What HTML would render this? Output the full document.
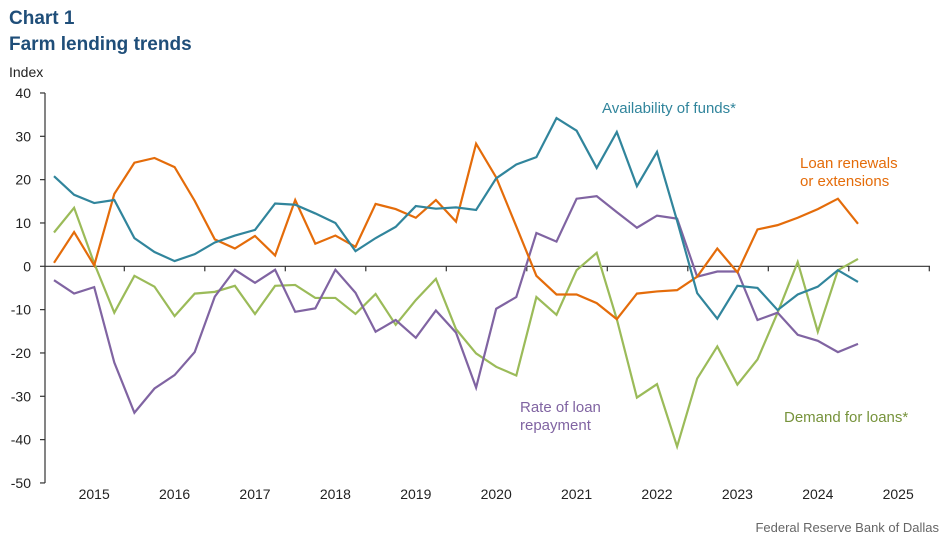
<!DOCTYPE html>
<html><head><meta charset="utf-8"><style>
body{margin:0;background:#fff;font-family:"Liberation Sans",Arial,sans-serif;}
svg text{font-family:"Liberation Sans",Arial,sans-serif;}
</style></head><body>
<svg id="chart" width="949" height="541" viewBox="0 0 949 541" xmlns="http://www.w3.org/2000/svg">
<text x="9" y="24" font-size="19" font-weight="bold" fill="#1f4e79">Chart 1</text>
<text x="9" y="50" font-size="19" font-weight="bold" fill="#1f4e79">Farm lending trends</text>
<text x="9" y="77" font-size="14" fill="#222">Index</text>
<g id="axes"></g>
<g id="lines"></g>
<text x="602" y="113" font-size="15" fill="#31859c">Availability of funds*</text>
<text x="800" y="168" font-size="15" fill="#e46c0a">Loan renewals</text>
<text x="800" y="186" font-size="15" fill="#e46c0a">or extensions</text>
<text x="520" y="412" font-size="15" fill="#8064a2">Rate of loan</text>
<text x="520" y="430" font-size="15" fill="#8064a2">repayment</text>
<text x="784" y="422" font-size="15" fill="#77933c">Demand for loans*</text>
<text x="939" y="532" font-size="13" fill="#666" text-anchor="end">Federal Reserve Bank of Dallas</text>
</svg>
<script>
const availability=[20.8,16.5,14.6,15.3,6.5,3.3,1.2,2.8,5.5,7.1,8.4,14.5,14.2,12.2,10,3.5,6.5,9.1,13.9,13.3,13.6,13.0,20.3,23.5,25.2,34.2,31.3,22.7,31,18.5,26.4,10.5,-6.2,-12.1,-4.5,-5,-10.1,-6.5,-4.7,-0.9,-3.6];
const renewals=[0.8,7.9,0.2,16.7,23.9,25,22.9,15.1,6.2,4.1,7,2.5,15.3,5.2,7.1,4.5,14.4,13.2,11.2,15.3,10.3,28.3,20.5,9.2,-2.2,-6.5,-6.5,-8.5,-12.2,-6.3,-5.8,-5.5,-2.4,4.1,-1.4,8.5,9.5,11.2,13.2,15.6,9.8];
const repayment=[-3.2,-6.3,-4.8,-22.2,-33.8,-28.2,-25.1,-19.8,-7,-0.8,-3.8,-0.8,-10.5,-9.7,-0.8,-6.1,-15.1,-12.4,-16.5,-10.2,-15.3,-28,-9.8,-7.1,7.7,5.7,15.6,16.2,12.5,8.9,11.7,11,-2.4,-1.2,-1.2,-12.4,-10.7,-15.8,-17.2,-19.8,-17.9];
const demand=[7.8,13.5,0.7,-10.7,-2.2,-4.7,-11.5,-6.3,-5.9,-4.5,-11,-4.5,-4.3,-7.3,-7.3,-11,-6.4,-13.5,-7.8,-2.9,-14.5,-20.1,-23.2,-25.2,-7.1,-11.2,-0.9,3.1,-12.2,-30.3,-27.2,-41.6,-25.9,-18.5,-27.3,-21.5,-10.7,1,-15.1,-0.9,1.7];
const yTicks=[40,30,20,10,0,-10,-20,-30,-40,-50];
const years=["2015","2016","2017","2018","2019","2020","2021","2022","2023","2024","2025"];
const NS="http://www.w3.org/2000/svg";
function x(i){return 54+i*20.1;}
function y(v){return 266.3-v*4.333;}
const axes=document.getElementById('axes'),lines=document.getElementById('lines');
function mk(tag,attrs,parent){const e=document.createElementNS(NS,tag);for(const k in attrs)e.setAttribute(k,attrs[k]);parent.appendChild(e);return e;}
let a=mk('line',{x1:45,y1:y(40),x2:45,y2:y(-50),stroke:'#333','stroke-width':1.2},axes);


yTicks.forEach(v=>{
  const t=mk('line',{x1:40,x2:45,y1:y(v),y2:y(v),stroke:'#333','stroke-width':1.2},axes);
  
  
  const l=mk('text',{x:31,y:y(v)+5,'font-size':14,fill:'#222','text-anchor':'end'},axes);
  l.textContent=v;
  
  
});
const z=mk('line',{x1:45,x2:930,y1:y(0),y2:y(0),stroke:'#333','stroke-width':1.2},axes);


years.forEach((yr,k)=>{
  const tx=124.3+k*80.5;
  if(tx<=931){const t=mk('line',{x1:tx,x2:tx,y1:y(0),y2:y(0)+5,stroke:'#333','stroke-width':1.2},axes);
  
  }
  const l=mk('text',{x:x(2)+k*80.4,y:y(-50)+16,'font-size':14,fill:'#222','text-anchor':'middle'},axes);
  l.textContent=yr;
  
  
});
function series(arr,color,name){
  const p=mk('polyline',{points:arr.map((v,i)=>x(i)+','+y(v)).join(' '),fill:'none',stroke:color,'stroke-width':2.2,'stroke-linejoin':'miter'},lines);
  
  
}
series(demand,'#9bbb59','demand-line');
series(repayment,'#8064a2','repayment-line');
series(renewals,'#e46c0a','renewals-line');
series(availability,'#31859c','availability-line');
</script>
</body></html>
